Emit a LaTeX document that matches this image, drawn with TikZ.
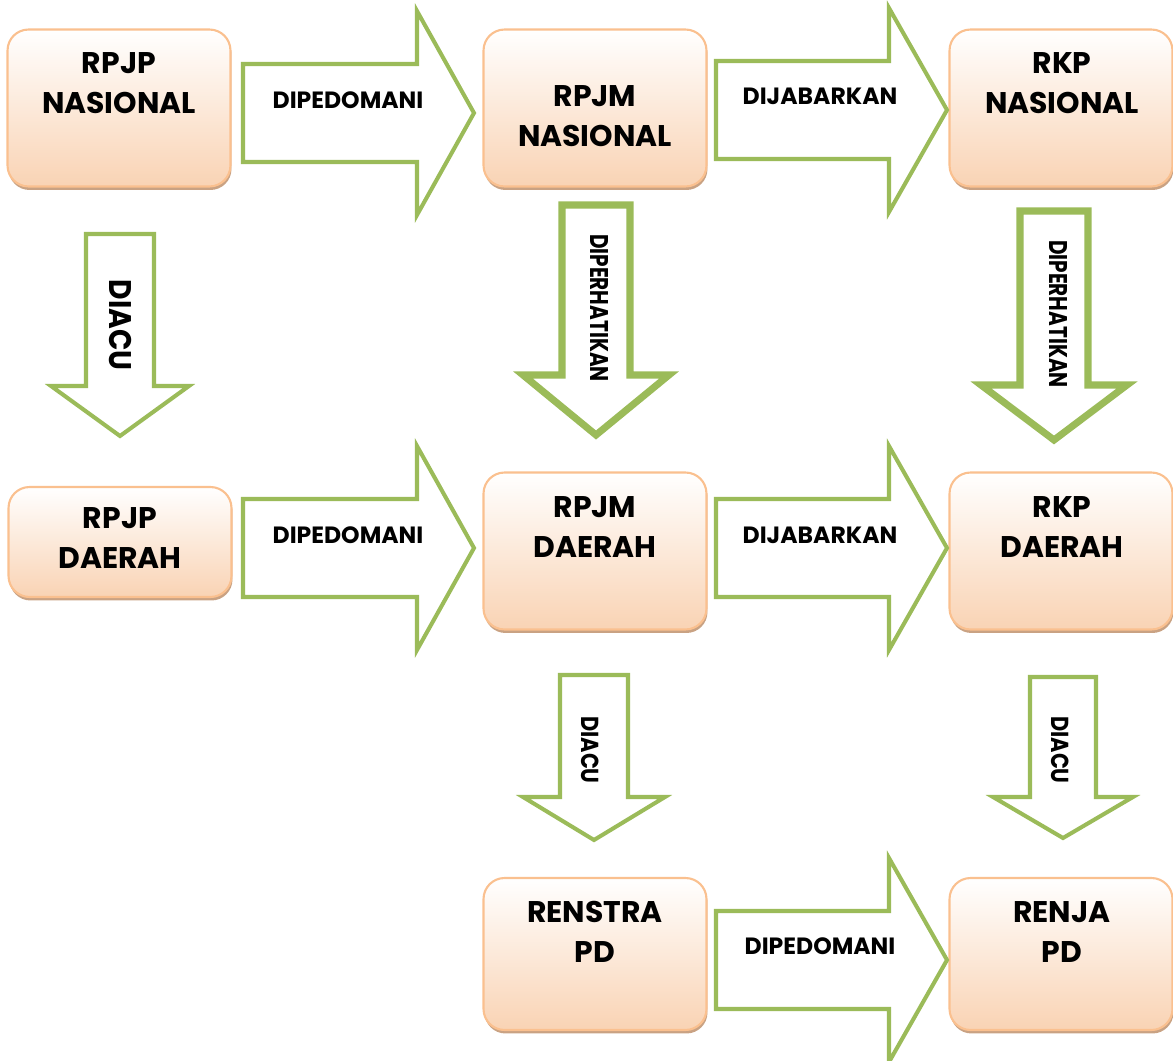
\documentclass[tikz,border=0pt]{standalone}
\usepackage{fontspec}
\setmainfont{Poppins}
\usepackage{xcolor}
\usepackage{graphicx}
\usetikzlibrary{shapes,arrows,positioning,calc,shadows}
\definecolor{boxedge}{HTML}{FAC08F}
\definecolor{boxbot}{HTML}{F9D3B4}
\definecolor{boxshade}{HTML}{C9A283}
\definecolor{arrowgreen}{HTML}{9BBB59}

\begin{document}
\begin{tikzpicture}[x=0.02cm, y=-0.02cm,
    box/.style={draw=boxedge, line width=1.2pt, rounded corners=0.42cm, top color=white, bottom color=boxbot,
        minimum width=4.46cm, minimum height=3.14cm,
        drop shadow={shadow xshift=0.02cm, shadow yshift=-0.07cm, fill=boxshade, opacity=1}},
    boxtext/.style={font=\fontsize{17}{22.7}\selectfont\bfseries, align=center},
    bigarrow/.style={draw=arrowgreen, line width=2.3pt, fill=white, line join=miter},
    arrowtext/.style={font=\fontsize{13.4}{15}\selectfont\bfseries}]
    \useasboundingbox (0,0) rectangle (1173,1061);
    \node[box] (rpjpn) at (119,108) {};
    \node[box] (rpjmn) at (595,108) {};
    \node[box] (rkpn) at (1061,108) {};
    \node[box, minimum height=2.2cm] (rpjpd) at (120,542) {};
    \node[box] (rpjmd) at (595,551) {};
    \node[box] (rkpd) at (1061,551) {};
    \node[box, minimum height=3.04cm] (renstra) at (595,954) {};
    \node[box, minimum height=3.04cm] (renja) at (1061,954) {};
    \node[boxtext] (rpjpn-t) at (119,83) {RPJP\\NASIONAL};
    \node[boxtext] (rpjmn-t) at (595,116) {RPJM\\NASIONAL};
    \node[boxtext] (rkpn-t) at (1062,83) {RKP\\NASIONAL};
    \node[boxtext] (rpjpd-t) at (120,538) {RPJP\\DAERAH};
    \node[boxtext] (rpjmd-t) at (595,527) {RPJM\\DAERAH};
    \node[boxtext] (rkpd-t) at (1062,527) {RKP\\DAERAH};
    \node[boxtext] (renstra-t) at (595,932) {RENSTRA\\PD};
    \node[boxtext] (renja-t) at (1062,932) {RENJA\\PD};
    \foreach \xa/\xb/\xc/\ym/\lab/\lx/\ly [count=\i] in {243/417/474/113/DIPEDOMANI/348/100,
        716/889/947/110/DIJABARKAN/820/96, 243/417/474/548/DIPEDOMANI/348/535,
        716/889/947/548/DIJABARKAN/820/535, 716/889/947/960/DIPEDOMANI/820/946} {
        \draw[bigarrow] (\xa,\ym-49) -- (\xb,\ym-49) -- (\xb,\ym-102) -- (\xc,\ym)
            -- (\xb,\ym+102) -- (\xb,\ym+49) -- (\xa,\ym+49) -- cycle;
        \node[arrowtext] (ra\i) at (\lx,\ly) {\lab};
    }
    \foreach \xm/\hw/\hh/\ya/\yb/\yc/\lw/\lab/\lx/\ly/\fs/\sx [count=\i] in {
        120/34/69/234/386/436/2.3pt/DIACU/120/325/17.8/0.9,
        596/34/73/205/375/435/4pt/DIPERHATIKAN/599/308/14.6/0.78,
        1054/34/73/211/385/440/4pt/DIPERHATIKAN/1058/314/14.6/0.78,
        594/34/71/675/797/840/2.3pt/DIACU/590/750/14/0.85,
        1063/33/70/677/797/838/2.3pt/DIACU/1060/750/14/0.85} {
        \draw[bigarrow, line width=\lw] (\xm-\hw,\ya) -- (\xm+\hw,\ya) -- (\xm+\hw,\yb) -- (\xm+\hh,\yb)
            -- (\xm,\yc) -- (\xm-\hh,\yb) -- (\xm-\hw,\yb) -- cycle;
        \node[rotate=-90, font=\fontsize{\fs}{\fs}\selectfont\bfseries] (da\i) at (\lx,\ly) {\scalebox{\sx}[1]{\lab}};
    }
\end{tikzpicture}
\end{document}
